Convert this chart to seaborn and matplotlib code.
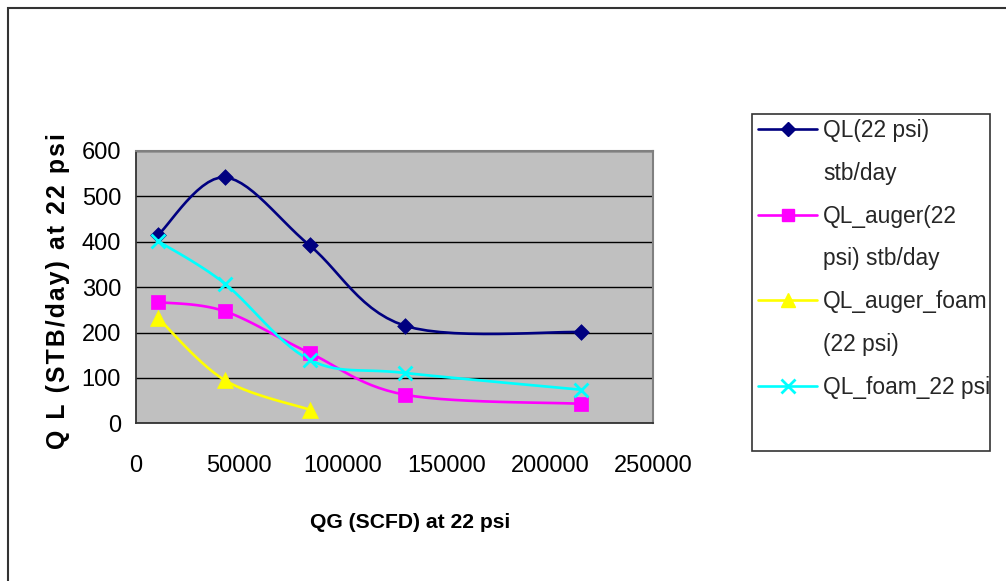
import numpy as np
import pandas as pd
import matplotlib
matplotlib.use("Agg")
import matplotlib.pyplot as plt
from matplotlib.lines import Line2D
from matplotlib.patches import Rectangle
import seaborn as sns

# Gas rate (SCFD) at each test point
qg = [11000, 43000, 84000, 130000, 215000]

# Liquid rates (STB/day) at 22 psi
ql_22psi = [416, 542, 392, 215, 201]
ql_auger = [267, 247, 155, 63, 43]
ql_auger_foam = [231, 95, 30]
ql_foam = [401, 308, 140, 111, 74]

x_ticks = [0, 50000, 100000, 150000, 200000, 250000]
y_ticks = [0, 100, 200, 300, 400, 500, 600]

legend_lines = [
    ["QL(22 psi)", "stb/day"],
    ["QL_auger(22", "psi) stb/day"],
    ["QL_auger_foam", "(22 psi)"],
    ["QL_foam_22 psi"],
]

series = [
    (ql_22psi, "#000080", "D", 8.0, 0.0),
    (ql_auger, "#FF00FF", "s", 9.5, 0.0),
    (ql_auger_foam, "#FFFF00", "^", 11.5, 0.0),
    (ql_foam, "#00FFFF", "x", 10.0, 2.0),
]


def smooth_curve(xs, ys, steps=14):
    """Catmull-Rom style smoothing through the given points (spreadsheet 'smoothed line')."""
    p = np.column_stack([np.asarray(xs, float), np.asarray(ys, float)])
    n = len(p)
    pts = [p[0]]
    for i in range(n - 1):
        p0 = p[max(i - 1, 0)]
        p1 = p[i]
        p2 = p[i + 1]
        p3 = p[min(i + 2, n - 1)]
        c1 = p1 + (p2 - p0) / 6.0
        c2 = p2 - (p3 - p1) / 6.0
        t = np.linspace(0, 1, steps + 1)[1:, None]
        seg = ((1 - t) ** 3) * p1 + 3 * ((1 - t) ** 2) * t * c1 + 3 * (1 - t) * (t ** 2) * c2 + (t ** 3) * p2
        pts.extend(seg)
    pts = np.array(pts)
    return pd.DataFrame({"x": pts[:, 0], "y": pts[:, 1]})


sns.set_style("white")
plt.rcParams["font.family"] = ["Liberation Sans", "DejaVu Sans"]

W, H = 1006, 581
fig = plt.figure(figsize=(W / 100, H / 100), dpi=100)
fig.patch.set_facecolor("white")

# plot area in pixel coordinates
left, right, top, bottom = 135.7, 653.3, 151.0, 423.3
ax = fig.add_axes([left / W, 1 - bottom / H, (right - left) / W, (bottom - top) / H])
ax.set_facecolor("#C0C0C0")

for vals, color, marker, ms, mew in series:
    xs = qg[: len(vals)]
    curve = smooth_curve(xs, vals)
    sns.lineplot(data=curve, x="x", y="y", sort=False, estimator=None,
                 color=color, linewidth=1.9, ax=ax, legend=False, zorder=3)
    pts = pd.DataFrame({"x": xs, "y": vals})
    if marker == "x":
        sns.scatterplot(data=pts, x="x", y="y", marker=marker, s=ms ** 2,
                        color=color, linewidth=mew, ax=ax, legend=False, zorder=4)
    else:
        sns.scatterplot(data=pts, x="x", y="y", marker=marker, s=ms ** 2,
                        color=color, edgecolor=color, linewidth=0.5, ax=ax,
                        legend=False, zorder=4)

ax.set_xlim(0, 250000)
ax.set_ylim(0, 600)
ax.set_xticks(x_ticks)
ax.set_xticklabels([str(v) for v in x_ticks])
ax.set_yticks(y_ticks)
ax.set_yticklabels([str(v) for v in y_ticks])
ax.set_xlabel("")
ax.set_ylabel("")

ax.yaxis.grid(True, color="black", linewidth=1.0, zorder=1)
ax.xaxis.grid(False)
ax.set_axisbelow(True)

for side in ["top", "right"]:
    ax.spines[side].set_color("#808080")
    ax.spines[side].set_linewidth(1.5)
for side in ["left", "bottom"]:
    ax.spines[side].set_color("#333333")
    ax.spines[side].set_linewidth(1.3)

ax.tick_params(axis="both", direction="out", length=4.5, width=1.0, color="#222222",
               labelsize=17, labelcolor="black")
ax.tick_params(axis="x", pad=18)
ax.tick_params(axis="y", pad=6)

# axis titles
ylabel = "\u200a".join("Q L (STB/day) at 22 psi")
fig.text(58 / W, 1 - 291 / H, ylabel, rotation=90, ha="center", va="center",
         fontsize=17.8, fontweight="bold", color="black")
fig.text(410 / W, 1 - 522 / H, "QG (SCFD) at 22 psi", ha="center", va="center",
         fontsize=15.2, fontweight="bold", color="black")

# outer chart frame
fig.add_artist(Rectangle((8 / W, -0.1), 1.2, 1 - 8 / H + 0.1, transform=fig.transFigure,
                         fill=False, edgecolor="#333333", linewidth=1.5, zorder=0))

# legend box
fig.add_artist(Rectangle((752 / W, 1 - 451 / H), (990 - 752) / W, (451 - 114) / H,
                         transform=fig.transFigure, facecolor="white",
                         edgecolor="#333333", linewidth=1.2, zorder=1))

handles, labels = [], []
blank = Line2D([], [], linestyle="none")
for (vals, color, marker, ms, mew), lines in zip(series, legend_lines):
    if marker == "x":
        h = Line2D([], [], color=color, linewidth=1.9, marker=marker, markersize=ms,
                   markeredgewidth=mew)
    else:
        h = Line2D([], [], color=color, linewidth=1.9, marker=marker, markersize=ms * 0.9,
                   markeredgecolor=color)
    handles.append(h)
    labels.append(lines[0])
    for extra in lines[1:]:
        handles.append(blank)
        labels.append(extra)

leg = fig.legend(handles, labels, loc="upper left", bbox_to_anchor=(758 / W, 1 - 119 / H),
                 bbox_transform=fig.transFigure, frameon=False, borderpad=0,
                 borderaxespad=0, handlelength=2.6, handletextpad=0.25,
                 labelspacing=0.87, fontsize=16.4, numpoints=1)
leg.set_zorder(5)

fig.savefig("out.png", dpi=100)
